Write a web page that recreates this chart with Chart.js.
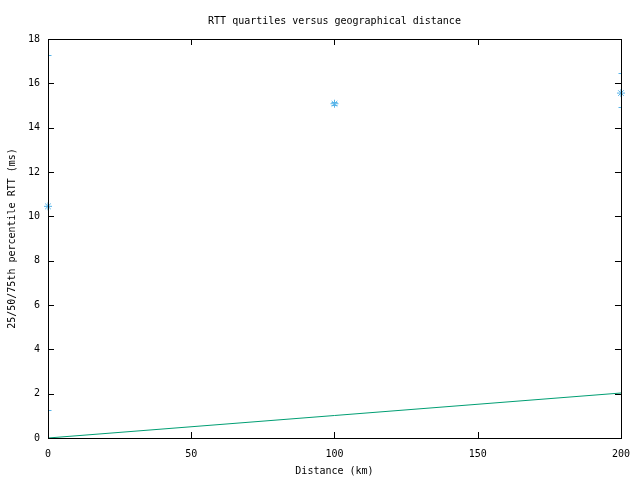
<!DOCTYPE html>
<html>
<head>
<meta charset="utf-8">
<script src="https://cdn.jsdelivr.net/npm/chart.js@4/dist/chart.umd.min.js"></script>
<style>
  html, body { margin: 0; padding: 0; background: #fff; }
  #wrap { width: 640px; height: 480px; }
</style>
</head>
<body>
<div id="wrap"><canvas id="rttChart"></canvas></div>
<script>
// distance (km) and RTT quartiles (ms)
const distances = [0, 100, 200];
const q25 = [1.25, 15.0, 14.92];
const median = [10.45, 15.08, 15.56];
const q75 = [17.28, 15.14, 16.45];

// reference line (speed of light in fibre-ish)
const refX = [0, 200];
const refY = [0, 2.03];

const xTicks = [0, 50, 100, 150, 200];
const yTicks = [0, 2, 4, 6, 8, 10, 12, 14, 16, 18];

const FONT = { family: "'DejaVu Sans Mono', monospace", size: 10 };
const BLUE = '#56b4e9';
const GREEN = '#009e73';

// frame + inward ticks on all four sides, gnuplot style
const framePlugin = {
    id: 'frame',
    afterDraw(chart) {
        const { ctx, chartArea: a, scales } = chart;
        ctx.save();
        ctx.strokeStyle = '#000';
        ctx.lineWidth = 1;
        ctx.beginPath();
        xTicks.forEach(v => {
            const px = Math.round(scales.x.getPixelForValue(v)) + 0.5;
            ctx.moveTo(px, a.bottom); ctx.lineTo(px, a.bottom - 6);
            ctx.moveTo(px, a.top); ctx.lineTo(px, a.top + 6);
        });
        yTicks.forEach(v => {
            const py = Math.round(scales.y.getPixelForValue(v)) + 0.5;
            ctx.moveTo(a.left, py); ctx.lineTo(a.left + 6, py);
            ctx.moveTo(a.right, py); ctx.lineTo(a.right - 6, py);
        });
        ctx.stroke();
        ctx.strokeRect(Math.round(a.left) + 0.5, Math.round(a.top) + 0.5,
            Math.round(a.right - a.left), Math.round(a.bottom - a.top));
        ctx.restore();
    }
};

// quartile error bars
const errorBarPlugin = {
    id: 'errorBars',
    beforeDatasetsDraw(chart) {
        const { ctx, chartArea: a, scales } = chart;
        ctx.save();
        ctx.beginPath();
        ctx.rect(a.left, a.top, a.right - a.left, a.bottom - a.top);
        ctx.clip();
        ctx.strokeStyle = BLUE;
        ctx.lineWidth = 1;
        ctx.beginPath();
        distances.forEach((d, i) => {
            const px = Math.round(scales.x.getPixelForValue(d)) + 0.5;
            const lo = Math.round(scales.y.getPixelForValue(q25[i])) + 0.5;
            const hi = Math.round(scales.y.getPixelForValue(q75[i])) + 0.5;
            ctx.moveTo(px, lo); ctx.lineTo(px, hi);
            ctx.moveTo(px - 3, lo); ctx.lineTo(px + 3, lo);
            ctx.moveTo(px - 3, hi); ctx.lineTo(px + 3, hi);
        });
        ctx.stroke();
        ctx.restore();
    }
};

new Chart(document.getElementById('rttChart'), {
    type: 'scatter',
    data: {
        datasets: [
            {
                label: 'reference',
                data: refX.map((x, i) => ({ x: x, y: refY[i] })),
                showLine: true,
                borderColor: GREEN,
                borderWidth: 1,
                pointRadius: 0,
                fill: false
            },
            {
                label: 'median',
                data: distances.map((x, i) => ({ x: x, y: median[i] })),
                showLine: false,
                clip: false,
                pointStyle: 'star',
                pointRadius: 4,
                borderColor: BLUE,
                backgroundColor: BLUE,
                borderWidth: 1
            }
        ]
    },
    options: {
        responsive: true,
        maintainAspectRatio: false,
        animation: false,
        layout: { padding: { top: 0, right: 17, left: 0, bottom: 0 } },
        plugins: {
            legend: { display: false },
            tooltip: { enabled: false },
            title: {
                display: true,
                fullSize: false,
                text: 'RTT quartiles versus geographical distance',
                color: '#000',
                font: { ...FONT, weight: 'normal' },
                padding: { top: 15, bottom: 12 }
            }
        },
        scales: {
            x: {
                type: 'linear',
                min: 0, max: 200,
                afterBuildTicks: s => { s.ticks = xTicks.map(v => ({ value: v })); },
                afterFit: s => { s.height = 42; },
                grid: { display: false, drawTicks: false },
                border: { display: false },
                ticks: { color: '#000', font: FONT, padding: 10, maxRotation: 0 },
                title: { display: true, text: 'Distance (km)', color: '#000', font: FONT, padding: { top: 0, bottom: 3 } }
            },
            y: {
                type: 'linear',
                min: 0, max: 18,
                afterBuildTicks: s => { s.ticks = yTicks.map(v => ({ value: v })); },
                afterFit: s => { s.width = 48; },
                grid: { display: false, drawTicks: false },
                border: { display: false },
                ticks: { color: '#000', font: FONT, padding: 8 },
                title: { display: true, text: '25/50/75th percentile RTT (ms)', color: '#000', font: FONT, padding: { top: 6, bottom: 0 } }
            }
        }
    },
    plugins: [errorBarPlugin, framePlugin]
});
</script>
</body>
</html>
